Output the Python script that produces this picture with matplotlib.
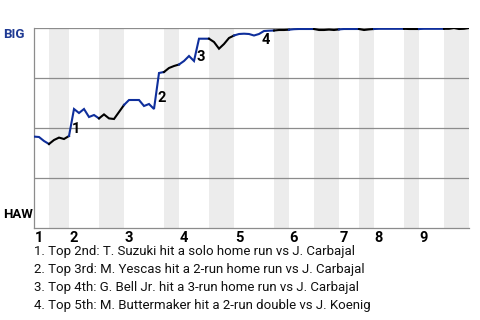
import matplotlib
matplotlib.use("Agg")
import matplotlib.pyplot as plt
import numpy as np

plt.rcParams['font.family'] = ['Roboto', 'DejaVu Sans']

# plate appearances per half inning (top, bottom, top, bottom, ...)
half_pa = [3, 4, 6, 5, 8, 3, 6, 5, 8, 3, 5, 5, 4, 3, 6, 3, 5, 5]

# BIG win probability after each plate appearance (first value = pregame)
win_prob = [
    0.457, 0.455, 0.435, 0.42,
    0.44, 0.452, 0.445, 0.46,
    0.595, 0.575, 0.595, 0.555, 0.565, 0.548,
    0.568, 0.548, 0.545, 0.58, 0.615,
    0.64, 0.64, 0.64, 0.61, 0.62, 0.595, 0.775, 0.78,
    0.80, 0.81, 0.8175,
    0.835, 0.86, 0.835, 0.9465, 0.9465, 0.9465,
    0.93, 0.8965, 0.92, 0.95, 0.9625,
    0.97, 0.9715, 0.97, 0.9625, 0.97, 0.985, 0.9865, 0.9875,
    0.99, 0.99, 0.9915,
    0.994, 0.995, 0.995, 0.995, 0.995,
    0.99, 0.99, 0.992, 0.99, 0.993,
    0.995, 0.995, 0.995, 0.995,
    0.99, 0.993, 0.995,
    0.996, 0.996, 0.996, 0.996, 0.996, 0.996,
    0.995, 0.995, 0.995,
    0.996, 0.996, 0.996, 0.996, 0.996,
    0.996, 1.0, 0.995, 0.996, 1.0,
]

innings = ["1", "2", "3", "4", "5", "6", "7", "8", "9"]

key_x = [8.4, 25.6, 33.4, 46.4]
key_y = [0.495, 0.65, 0.855, 0.94]
key_labels = ["1", "2", "3", "4"]

notes = [
    "1. Top 2nd: T. Suzuki hit a solo home run vs J. Carbajal",
    "2. Top 3rd: M. Yescas hit a 2-run home run vs J. Carbajal",
    "3. Top 4th: G. Bell Jr. hit a 3-run home run vs J. Carbajal",
    "4. Top 5th: M. Buttermaker hit a 2-run double vs J. Koenig",
]

blue = "#0f2f9c"
grid_c = "#8c8c8c"

fig = plt.figure(figsize=(4.8, 3.2), dpi=100)
ax = fig.add_axes([34 / 480, 1 - 228 / 320, 435 / 480, 200 / 320])

bounds = np.concatenate([[0], np.cumsum(half_pa)])
total = bounds[-1]

# shade bottom halves
for k in range(1, len(half_pa), 2):
    ax.axvspan(bounds[k], bounds[k + 1], color="#ececec", lw=0, zorder=0)

for yv in [0.25, 0.5, 0.75, 1.0]:
    ax.axhline(yv, color=grid_c, lw=0.9, zorder=1)

xs = np.arange(len(win_prob))
for k in range(len(half_pa)):
    a, b = bounds[k], bounds[k + 1]
    col = blue if k % 2 == 0 else "black"
    ax.plot(xs[a:b + 1], win_prob[a:b + 1], color=col, lw=1.5,
            solid_joinstyle="miter", zorder=3)

for x, y, t in zip(key_x, key_y, key_labels):
    ax.text(x, y, t, fontsize=10.5, fontweight="bold", ha="center",
            va="center", zorder=4)

ax.set_xlim(0, total)
ax.set_ylim(0, 1)
ax.set_xticks([])
ax.set_yticks([])
for s in ["top", "right"]:
    ax.spines[s].set_visible(False)
ax.spines["left"].set_color(grid_c)
ax.spines["bottom"].set_color(grid_c)
ax.spines["left"].set_linewidth(0.9)
ax.spines["bottom"].set_linewidth(0.9)

# inning numbers at start of each inning
for i, lab in enumerate(innings):
    ax.text(bounds[2 * i] + 0.15, -0.05, lab, fontsize=10.5, fontweight="bold",
            ha="left", va="center", transform=ax.transData, clip_on=False)

fig.text(3 / 480, 1 - 35 / 320, "BIG", fontsize=9.5, fontweight="bold",
         color="#1f3a93", ha="left", va="center")
fig.text(3 / 480, 1 - 214 / 320, "HAW", fontsize=9.5, fontweight="bold",
         color="black", ha="left", va="center")

for j, line in enumerate(notes):
    fig.text(34 / 480, 1 - (252 + 18 * j) / 320, line, fontsize=9.5,
             ha="left", va="center", color="#111111")

fig.savefig("out.png", dpi=100)
